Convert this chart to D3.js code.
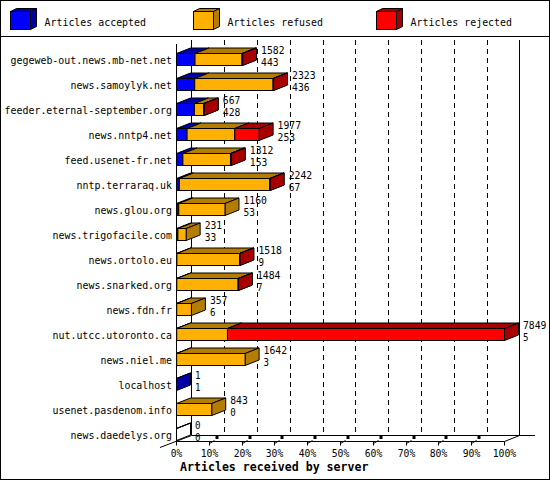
<!DOCTYPE html>
<html><head><meta charset="utf-8">
<script src="https://cdn.jsdelivr.net/npm/d3@7"></script>
<style>html,body{margin:0;padding:0;background:#fff}svg{display:block}</style>
</head><body>
<script>
const servers = ["gegeweb-out.news.mb-net.net","news.samoylyk.net","feeder.eternal-september.org","news.nntp4.net","feed.usenet-fr.net","nntp.terraraq.uk","news.glou.org","news.trigofacile.com","news.ortolo.eu","news.snarked.org","news.fdn.fr","nut.utcc.utoronto.ca","news.niel.me","localhost","usenet.pasdenom.info","news.daedelys.org"];
const accepted = [443,436,428,253,153,67,53,33,9,7,6,5,3,1,0,0];
const refused  = [1124,1875,224,1142,1139,2165,1107,198,1499,1467,351,1215,1639,0,843,0];
const rejected = [15,12,15,582,20,10,0,0,10,10,0,6629,0,0,0,0];
const seriesNames = ["Articles accepted","Articles refused","Articles rejected"];
const tickPercents = [0,10,20,30,40,50,60,70,80,90,100];
const tickLabels = ["0%","10%","20%","30%","40%","50%","60%","70%","80%","90%","100%"];
const xTitle = "Articles received by server";

const W = 550, H = 480;
const front = ["#0000ff","#ffb000","#ff0000"];
const dark  = ["#0000a8","#b47d00","#a80000"];
const FONT = "'DejaVu Sans Mono', 'Liberation Mono', monospace";

const svg = d3.select("body").append("svg").attr("width", W).attr("height", H);
svg.append("rect").attr("x",0.5).attr("y",0.5).attr("width",W-1).attr("height",H-1).attr("fill","#fff").attr("stroke","#000");
svg.append("line").attr("x1",0).attr("x2",W).attr("y1",36.5).attr("y2",36.5).attr("stroke","#000");

function txt(g, s, x, y, opts={}) {
  const cw = opts.cw || 6;
  const t = g.append("text").attr("x",x).attr("y",y).text(s)
    .attr("font-family",FONT).attr("font-size",opts.size||11).attr("fill","#000")
    .attr("textLength", s.length*cw - 0.5).attr("lengthAdjust","spacingAndGlyphs");
  if (opts.bold) t.attr("font-weight","bold");
  if (opts.anchor) t.attr("text-anchor",opts.anchor);
  return t;
}

// legend
const legend = svg.append("g");
seriesNames.forEach((n,i)=>{
  const x0 = 10.5 + i*183, y0 = 11.5, w = 20, h = 18, dx = 6, dy = -3;
  const g = legend.append("g");
  g.append("path").attr("d",`M${x0},${y0}L${x0+dx},${y0+dy}L${x0+w+dx},${y0+dy}L${x0+w},${y0}Z`).attr("fill",dark[i]).attr("stroke","#000");
  g.append("path").attr("d",`M${x0+w},${y0}L${x0+w+dx},${y0+dy}L${x0+w+dx},${y0+h+dy}L${x0+w},${y0+h}Z`).attr("fill",dark[i]).attr("stroke","#000");
  g.append("rect").attr("x",x0).attr("y",y0).attr("width",w).attr("height",h).attr("fill",front[i]).attr("stroke","#000");
  txt(g, n, x0+34, 25.5);
});

const totals = servers.map((s,i)=>accepted[i]+refused[i]+rejected[i]);
const x = d3.scaleLinear().domain([0, d3.max(totals)]).range([176, 504]);
const xp = d3.scaleLinear().domain([0,100]).range([176, 504]);
const y = d3.scaleBand().domain(servers).range([40.7, 440.7]);
const ADX = 15.3, ADY = -6;     // axis depth
const BDX = 14, BDY = -5.5, BH = 12; // bar depth / height
const floorY = 440.7, topY = 40;

// gridlines on back wall
const grid = svg.append("g");
tickPercents.slice(1,-1).forEach(p=>{
  const gx = Math.round(xp(p)+ADX)+0.5;
  grid.append("line").attr("x1",gx).attr("x2",gx).attr("y1",topY).attr("y2",floorY+ADY)
    .attr("stroke","#000").attr("stroke-dasharray","5,4");
});
// back walls
const axes = svg.append("g").attr("stroke","#000").attr("fill","none");
const bx0 = Math.round(x(0)+ADX)+0.5, bx1 = Math.round(xp(100)+ADX)+0.5, by = Math.round(floorY+ADY)+0.5;
axes.append("line").attr("x1",bx0).attr("x2",bx0).attr("y1",topY).attr("y2",by);
axes.append("line").attr("x1",bx1).attr("x2",bx1).attr("y1",topY).attr("y2",by);
axes.append("line").attr("x1",bx0).attr("x2",535).attr("y1",by).attr("y2",by);

// bars
const bars = svg.append("g");
function box(g, x0, x1, top, fill, sfill, f) {
  const dx=BDX, dy=BDY, h=BH;
  g.append("path").attr("d",`M${x0},${top}L${x0+dx},${top+dy}L${x1+dx},${top+dy}L${x1},${top}Z`).attr("fill",sfill).attr("stroke","#000").attr("stroke-linejoin","round");
  g.append("path").attr("d",`M${x1},${top}L${x1+dx},${top+dy}L${x1+dx},${top+h+dy}L${x1},${top+h}Z`).attr("fill",sfill).attr("stroke","#000").attr("stroke-linejoin","round");
  g.append("rect").attr("x",x0).attr("y",top).attr("width",Math.max(0,x1-x0)).attr("height",h).attr("fill",f).attr("stroke","#000");
}
servers.forEach((s,i)=>{
  const top = Math.round(y(s)+12.6)+0.5;
  const g = bars.append("g");
  const vals = [accepted[i], refused[i], rejected[i]];
  let cum = 0;
  if (totals[i] === 0) {
    box(g, x(0)+0.5, x(0)+0.5, top, "none", "none", "none");
  }
  vals.forEach((v,k)=>{
    if (v<=0) return;
    const x0 = x(cum)+0.5, x1 = x(cum+v)+0.5;
    box(g, x0, x1, top, front[k], dark[k], front[k]);
    cum += v;
  });
  const lx = x(totals[i]) + 19;
  txt(g, String(totals[i]), lx, top+0.5, {size:10});
  txt(g, String(accepted[i]), lx, top+12, {size:10});
  txt(g, s, 172, top+10.5, {anchor:"end"});
});

// front axes
const fx = Math.round(x(0))+0.5, fy = Math.round(floorY)+0.5;
axes.append("line").attr("x1",fx).attr("x2",fx).attr("y1",44).attr("y2",fy);
axes.append("line").attr("x1",fx).attr("x2",Math.round(xp(100))+0.5).attr("y1",fy).attr("y2",fy);
axes.append("line").attr("x1",160).attr("y1",fy+6).attr("x2",bx0).attr("y2",by);
axes.append("line").attr("x1",Math.round(xp(100))+0.5).attr("y1",fy).attr("x2",bx1).attr("y2",by);

// ticks
const ticks = svg.append("g");
tickPercents.forEach((p,i)=>{
  const tx = Math.round(xp(p))+0.5;
  ticks.append("line").attr("x1",tx).attr("x2",tx).attr("y1",fy).attr("y2",fy+4).attr("stroke","#000");
  if (i>0 && i<tickPercents.length-1) {
    ticks.append("line").attr("x1",tx).attr("y1",fy+2).attr("x2",tx+5).attr("y2",fy-1).attr("stroke","#000");
    ticks.append("rect").attr("x",tx+6).attr("y",fy-5.5).attr("width",3).attr("height",3).attr("fill","#000");
  }
  txt(ticks, tickLabels[i], tx, 457, {anchor:"middle"});
});

txt(svg, xTitle, 180, 471, {bold:true, size:12, cw:7});
</script>
</body></html>
